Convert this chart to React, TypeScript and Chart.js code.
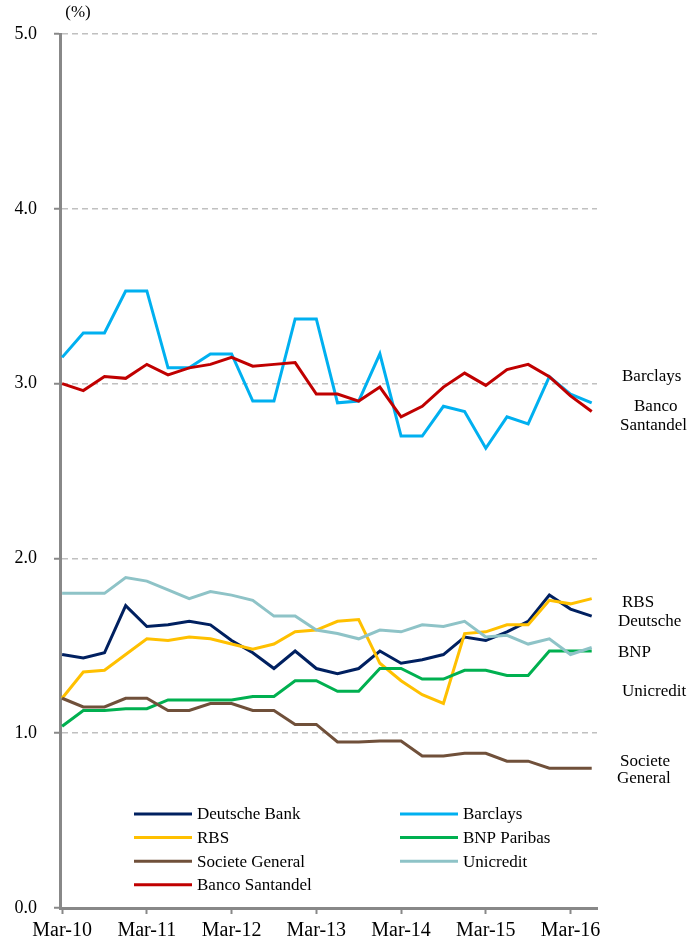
import React, { useEffect, useRef } from "react";
import { Chart, registerables } from "chart.js";
Chart.register(...registerables);

const categories = [
  "Mar-10", "Jun-10", "Sep-10", "Dec-10",
  "Mar-11", "Jun-11", "Sep-11", "Dec-11",
  "Mar-12", "Jun-12", "Sep-12", "Dec-12",
  "Mar-13", "Jun-13", "Sep-13", "Dec-13",
  "Mar-14", "Jun-14", "Sep-14", "Dec-14",
  "Mar-15", "Jun-15", "Sep-15", "Dec-15",
  "Mar-16", "Jun-16",
];
const xTickLabels = ["Mar-10", "Mar-11", "Mar-12", "Mar-13", "Mar-14", "Mar-15", "Mar-16"];

const deutsche = [1.45, 1.43, 1.46, 1.73, 1.61, 1.62, 1.64, 1.62, 1.53, 1.46, 1.37, 1.47, 1.37, 1.34, 1.37, 1.47, 1.40, 1.42, 1.45, 1.55, 1.53, 1.58, 1.64, 1.79, 1.71, 1.67];
const barclays = [3.15, 3.29, 3.29, 3.53, 3.53, 3.09, 3.09, 3.17, 3.17, 2.90, 2.90, 3.37, 3.37, 2.89, 2.90, 3.17, 2.70, 2.70, 2.87, 2.84, 2.63, 2.81, 2.77, 3.04, 2.94, 2.89];
const rbs = [1.20, 1.35, 1.36, 1.45, 1.54, 1.53, 1.55, 1.54, 1.51, 1.48, 1.51, 1.58, 1.59, 1.64, 1.65, 1.40, 1.30, 1.22, 1.17, 1.57, 1.58, 1.62, 1.62, 1.76, 1.74, 1.77];
const bnp = [1.04, 1.13, 1.13, 1.14, 1.14, 1.19, 1.19, 1.19, 1.19, 1.21, 1.21, 1.30, 1.30, 1.24, 1.24, 1.37, 1.37, 1.31, 1.31, 1.36, 1.36, 1.33, 1.33, 1.47, 1.47, 1.47];
const socgen = [1.20, 1.15, 1.15, 1.20, 1.20, 1.13, 1.13, 1.17, 1.17, 1.13, 1.13, 1.05, 1.05, 0.95, 0.95, 0.955, 0.955, 0.87, 0.87, 0.885, 0.885, 0.84, 0.84, 0.80, 0.80, 0.80];
const unicredit = [1.80, 1.80, 1.80, 1.89, 1.87, 1.82, 1.77, 1.81, 1.79, 1.76, 1.67, 1.67, 1.59, 1.57, 1.54, 1.59, 1.58, 1.62, 1.61, 1.64, 1.55, 1.56, 1.51, 1.54, 1.45, 1.49];
const santander = [3.00, 2.96, 3.04, 3.03, 3.11, 3.05, 3.09, 3.11, 3.15, 3.10, 3.11, 3.12, 2.94, 2.94, 2.90, 2.98, 2.81, 2.87, 2.98, 3.06, 2.99, 3.08, 3.11, 3.04, 2.93, 2.84];

const seriesNames = ["Deutsche Bank", "Barclays", "RBS", "BNP Paribas", "Societe General", "Unicredit", "Banco Santandel"];
const seriesColors = ["#002060", "#00B0F0", "#FFC000", "#00B050", "#70503A", "#8EC3C7", "#C00000"];
const seriesValues = [deutsche, barclays, rbs, bnp, socgen, unicredit, santander];

// right-hand annotations: text, value position on y axis
const sideLabels: [string, number, number][] = [
  ["Barclays", 3.04, 622],
  ["Banco", 2.87, 634],
  ["Santandel", 2.76, 620],
  ["RBS", 1.75, 622],
  ["Deutsche", 1.64, 618],
  ["BNP", 1.46, 618],
  ["Unicredit", 1.24, 622],
  ["Societe", 0.84, 620],
  ["General", 0.74, 617],
];

const FONT = "'Times New Roman', 'Liberation Serif', serif";

const overlayPlugin = {
  id: "overlay",
  afterDraw(chart: any) {
    const ctx = chart.ctx;
    const yScale = chart.scales.y;
    ctx.save();
    ctx.fillStyle = "#000";
    ctx.textBaseline = "middle";
    ctx.font = `17px ${FONT}`;
    ctx.textAlign = "center";
    ctx.fillText("(%)", 78, 13);
    ctx.textAlign = "left";
    for (const [t, v, x] of sideLabels) {
      ctx.fillText(t, x, yScale.getPixelForValue(v));
    }
    const cols = [134, 400];
    const rowY0 = 814;
    const rowH = 23.6;
    seriesNames.forEach((name, i) => {
      const col = i % 2;
      const row = Math.floor(i / 2);
      const x = cols[col];
      const y = rowY0 + row * rowH;
      ctx.strokeStyle = seriesColors[i];
      ctx.lineWidth = 3;
      ctx.setLineDash([]);
      ctx.beginPath();
      ctx.moveTo(x, y);
      ctx.lineTo(x + 58, y);
      ctx.stroke();
      ctx.fillStyle = "#000";
      ctx.fillText(name, x + 63, y + 1);
    });
    ctx.restore();
  },
};

export default function App() {
  const ref = useRef<HTMLCanvasElement | null>(null);
  useEffect(() => {
    document.body.style.margin = "0";
    const canvas = ref.current!;
    const tickIdx = xTickLabels.map((l) => categories.indexOf(l));
    const chart = new Chart(canvas, {
      type: "line",
      data: {
        datasets: seriesValues.map((vals, i) => ({
          label: seriesNames[i],
          data: vals.map((v, j) => ({ x: j, y: v })),
          borderColor: seriesColors[i],
          backgroundColor: seriesColors[i],
          borderWidth: 3,
          pointRadius: 0,
          tension: 0,
          fill: false,
          order: seriesValues.length - i,
        })),
      },
      options: {
        animation: false,
        responsive: false,
        devicePixelRatio: 1,
        layout: { padding: { top: 34, right: 95, left: 0, bottom: 0 } },
        plugins: { legend: { display: false }, tooltip: { enabled: false } },
        scales: {
          x: {
            type: "linear",
            min: -0.1,
            max: 25.25,
            afterFit: (s: any) => { s.height = 38; },
            afterBuildTicks: (s: any) => { s.ticks = tickIdx.map((v) => ({ value: v })); },
            border: { display: true, color: "#888888", width: 3 },
            grid: { drawOnChartArea: false, drawTicks: true, tickLength: 6, tickColor: "#888888", tickWidth: 2 },
            ticks: {
              autoSkip: false,
              maxRotation: 0,
              padding: 5,
              color: "#000",
              font: { family: FONT, size: 20 },
              callback: (v: any) => categories[Math.round(v)] ?? "",
            },
          },
          y: {
            min: 0,
            max: 5,
            afterFit: (s: any) => { s.width = 60; },
            border: { display: true, color: "#888888", width: 3, dash: [6, 4] },
            grid: {
              color: (c: any) => (c.tick && c.tick.value === 0 ? "rgba(0,0,0,0)" : "#C0C0C0"),
              lineWidth: 1.5,
              drawTicks: true,
              tickLength: 6,
              tickColor: "#888888",
              tickWidth: 2,
              tickBorderDash: [0, 0],
            },
            ticks: {
              stepSize: 1,
              padding: 17,
              color: "#000",
              font: { family: FONT, size: 18 },
              callback: (v: any) => Number(v).toFixed(1),
            },
          },
        },
      },
      plugins: [overlayPlugin],
    } as any);
    return () => chart.destroy();
  }, []);
  return <canvas ref={ref} width={692} height={946} style={{ display: "block" }} />;
}
